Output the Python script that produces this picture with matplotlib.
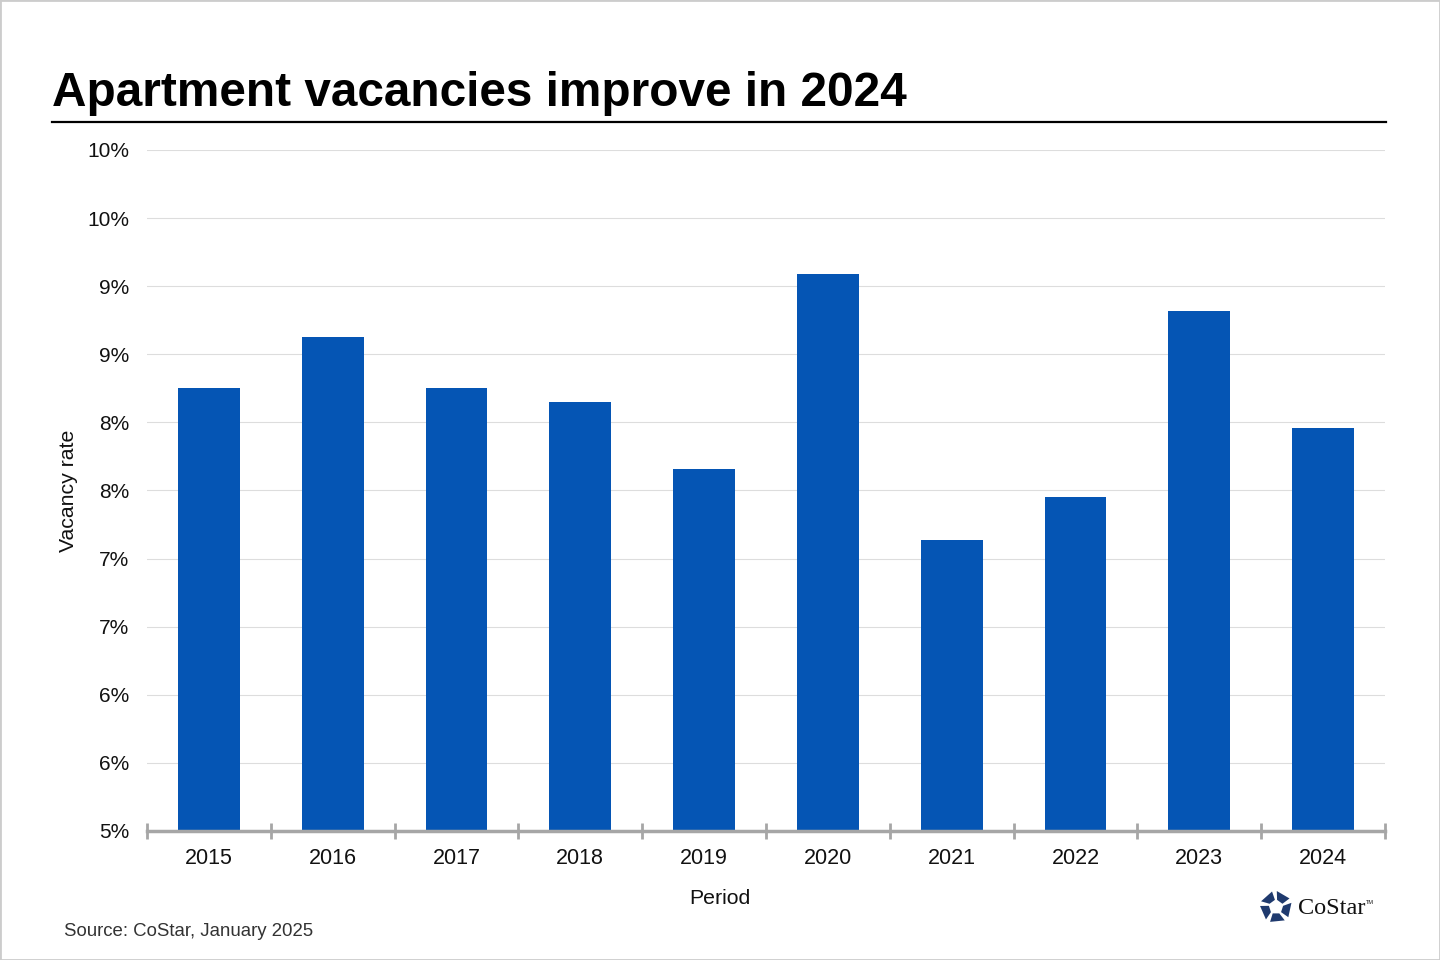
import matplotlib
matplotlib.use("Agg")
import matplotlib.pyplot as plt
import numpy as np
from matplotlib.patches import Polygon, Rectangle
from matplotlib.lines import Line2D

years = ["2015", "2016", "2017", "2018", "2019", "2020", "2021", "2022", "2023", "2024"]
vacancy = [8.25, 8.63, 8.25, 8.15, 7.66, 9.09, 7.14, 7.45, 8.82, 7.96]
ytick_vals = [5.0, 5.5, 6.0, 6.5, 7.0, 7.5, 8.0, 8.5, 9.0, 9.5, 10.0]
ytick_labels = ["5%", "6%", "6%", "7%", "7%", "8%", "8%", "9%", "9%", "10%", "10%"]

plt.rcParams['font.family'] = ['Liberation Sans', 'DejaVu Sans']

W, H = 1440, 960
fig = plt.figure(figsize=(14.4, 9.6), dpi=100)
fig.patch.set_facecolor("white")

def fx(px): return px / W
def fy(py): return 1 - py / H

ax = fig.add_axes([fx(147), fy(831), fx(1385) - fx(147), fy(150) - fy(831)])
x = np.arange(len(years))
ax.bar(x, vacancy, width=0.5, color="#0555b4", zorder=3)
ax.set_xlim(-0.5, len(years) - 0.5)
ax.set_ylim(5.0, 10.0)
ax.set_yticks(ytick_vals)
ax.set_yticklabels(ytick_labels, fontsize=15, color="#111111")
ax.yaxis.grid(True, color="#dddddd", linewidth=0.8, zorder=0)
ax.tick_params(axis="y", length=0, pad=13)
for s in ["top", "right", "left"]:
    ax.spines[s].set_visible(False)
ax.spines["bottom"].set_color("#a6a6a6")
ax.spines["bottom"].set_linewidth(2.5)
ax.spines["bottom"].set_zorder(4)

# major ticks at category boundaries (both sides), minor ticks at centers
ax.set_xticks(np.arange(-0.5, len(years), 1.0))
ax.set_xticklabels([])
ax.tick_params(axis="x", which="major", direction="inout", length=12, width=2, color="#a6a6a6")
ax.set_xticks(x, minor=True)
ax.set_xticklabels(years, minor=True, fontsize=15.5, color="#111111")
ax.tick_params(axis="x", which="minor", direction="in", length=5, width=2, color="#a6a6a6", pad=12)

ax.set_xlabel("Period", fontsize=15.3, color="#111111")
ax.xaxis.set_label_coords(0.463, -0.0855)
ax.set_ylabel("Vacancy rate", fontsize=15.3, color="#111111")
ax.yaxis.set_label_coords(-0.0557, 0.5)

# title and rule
fig.text(fx(52), fy(93), "Apartment vacancies improve in 2024", fontsize=34.4, fontweight="bold",
         ha="left", va="center", color="#000000")
fig.add_artist(Line2D([fx(52), fx(1386)], [fy(122), fy(122)], color="black", linewidth=1.6))

# source
fig.text(fx(64), fy(931), "Source: CoStar, January 2025", fontsize=13.4, color="#333333",
         ha="left", va="center")

# CoStar logo (approximation)
cx, cy, r = 1276, 907, 16
navy = "#1f3a6e"
for k in range(5):
    a = np.deg2rad(90 + 72 * k)
    b = np.deg2rad(90 + 72 * (k + 1))
    pts = []
    for ang, rr in [(a + 0.25, r), (b - 0.05, r), (b - 0.15, r * 0.45), (a + 0.15, r * 0.45)]:
        pts.append((fx(cx + rr * np.cos(ang)), fy(cy - rr * np.sin(ang))))
    fig.add_artist(Polygon(pts, closed=True, facecolor=navy, edgecolor="none"))
fig.text(fx(1298), fy(908), "CoStar", fontsize=17.5, family=["Liberation Serif", "DejaVu Serif"],
         color="#111111", ha="left", va="center")
fig.text(fx(1366), fy(902), "TM", fontsize=4, color="#111111", ha="left", va="center")

# light border
fig.add_artist(Rectangle((0, 0), 1, 1, transform=fig.transFigure, fill=False,
                         edgecolor="#cccccc", linewidth=2))

fig.savefig("out.png", dpi=100)
